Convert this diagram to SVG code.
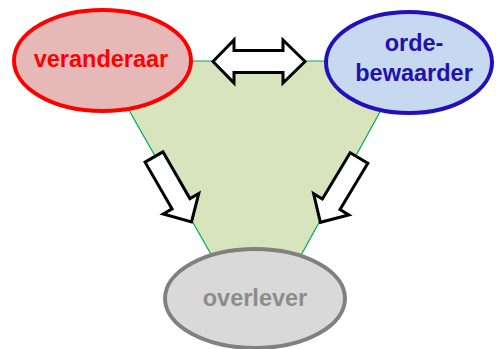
<svg xmlns="http://www.w3.org/2000/svg" width="496" height="349" viewBox="0 0 496 349">
<style>
.arrow{fill:#ffffff;stroke:#000000;stroke-width:3;stroke-linejoin:miter}
.lbl{font-family:"Liberation Sans",Arial,sans-serif;font-weight:bold;font-size:23.5px;text-anchor:middle}
</style>
<defs>
<polygon id="darr" points="0,-10.3 54,-10.3 54,-20.5 75,0 54,20.5 54,10.3 0,10.3"/>
</defs>
<rect width="496" height="349" fill="#ffffff"/>
<g id="background">
<polygon points="101,61 408,61 257,335" fill="#d7e4bd" stroke="#00b050" stroke-width="1.2"/>
</g>
<g id="connectors">
<polygon class="arrow" points="213,61.5 234,40 234,50.5 283,50.5 283,40 305,61.5 283,83 283,72.5 234,72.5 234,83"/>
<use href="#darr" class="arrow" transform="translate(154,157) rotate(60)"/>
<use href="#darr" class="arrow" transform="translate(359,158) rotate(121)"/>
</g>
<g id="veranderaar">
<ellipse cx="102.5" cy="60.5" rx="88.5" ry="50.5" fill="#e6b9b8" stroke="#ff0000" stroke-width="4"/>
<text class="lbl" x="101" y="66.5" fill="#ff0000">veranderaar</text>
</g>
<g id="ordebewaarder">
<ellipse cx="409" cy="62.5" rx="83" ry="50.5" fill="#c6d9f0" stroke="#2211bb" stroke-width="4"/>
<text class="lbl" x="414" y="51" fill="#2311a8">orde-</text>
<text class="lbl" x="414" y="81" fill="#2311a8">bewaarder</text>
</g>
<g id="overlever">
<ellipse cx="255" cy="298.5" rx="90" ry="49.5" fill="#d9d9d9" stroke="#808080" stroke-width="4"/>
<text class="lbl" x="255" y="306" fill="#8c8c8c">overlever</text>
</g>
</svg>
